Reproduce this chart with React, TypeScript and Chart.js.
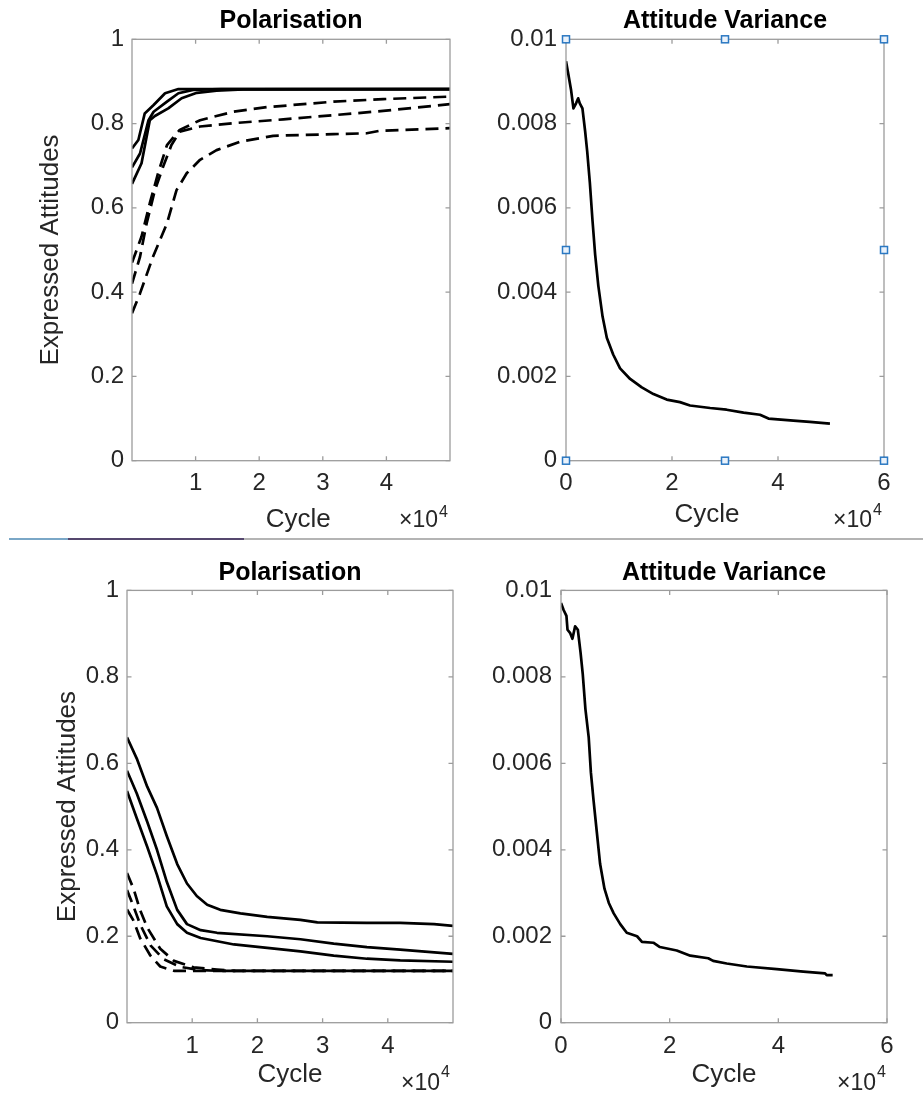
import React, { useEffect, useRef } from "react";
import { Chart, registerables } from "chart.js";

Chart.register(...registerables);

type Pt = [number, number];

const FONT = '"Liberation Sans", Arial, Helvetica, sans-serif';
const TICK_COLOR = "#262626";
const BOX_COLOR = "#9c9c9c";

// ---------- tick values ----------
const polYTicks = [0, 0.2, 0.4, 0.6, 0.8, 1];
const varYTicks = [0, 0.002, 0.004, 0.006, 0.008, 0.01];
const polXTicks = [10000, 20000, 30000, 40000];
const varXTicks = [0, 20000, 40000, 60000];
const X_EXPONENT = "4";

// ---------- top-left: Polarisation ----------
const tlSolidA: Pt[] = [[0, 0.741], [1000, 0.761], [2000, 0.824], [3400, 0.844], [5200, 0.872], [7300, 0.882], [50000, 0.882]];
const tlSolidB: Pt[] = [[0, 0.696], [1260, 0.729], [2600, 0.808], [3400, 0.828], [5500, 0.852], [7300, 0.872], [9600, 0.88], [14000, 0.882], [50000, 0.882]];
const tlSolidC: Pt[] = [[0, 0.657], [1500, 0.706], [2800, 0.808], [3600, 0.818], [5700, 0.836], [7800, 0.86], [10200, 0.873], [13300, 0.878], [17500, 0.881], [50000, 0.882]];
const tlDashA: Pt[] = [[0, 0.47], [1500, 0.532], [2800, 0.611], [4100, 0.682], [5500, 0.749], [7500, 0.785], [10700, 0.808], [15900, 0.828], [21200, 0.839], [31700, 0.852], [39500, 0.858], [50000, 0.864]];
const tlDashB: Pt[] = [[0, 0.42], [1260, 0.484], [2300, 0.563], [3600, 0.642], [4900, 0.698], [6200, 0.749], [7500, 0.781], [10700, 0.793], [15900, 0.801], [23800, 0.81], [31700, 0.82], [39500, 0.83], [50000, 0.846]];
const tlDashC: Pt[] = [[0, 0.35], [1260, 0.397], [3300, 0.484], [5500, 0.563], [7000, 0.642], [8600, 0.682], [10700, 0.714], [13300, 0.737], [17000, 0.757], [22200, 0.771], [31700, 0.775], [36900, 0.777], [39000, 0.783], [50000, 0.789]];

// ---------- top-right: Attitude Variance ----------
const trVariance: Pt[] = [[0, 0.00948], [440, 0.00917], [940, 0.00881], [1400, 0.00836], [1900, 0.00848], [2300, 0.0086], [2600, 0.00848], [3100, 0.00836], [3600, 0.00783], [4000, 0.00734], [4500, 0.0066], [5000, 0.0057], [5500, 0.00489], [6100, 0.00415], [6900, 0.00342], [7700, 0.00292], [8900, 0.00252], [10200, 0.00219], [12100, 0.00194], [14300, 0.00174], [16500, 0.00158], [19000, 0.00145], [21500, 0.00139], [23400, 0.00131], [27200, 0.00125], [30300, 0.00121], [33500, 0.00114], [36600, 0.00109], [38200, 0.001], [42900, 0.00095], [46000, 0.00092], [49800, 0.00088]];

// ---------- bottom-left: Polarisation ----------
const blSolidA: Pt[] = [[0, 0.66], [1500, 0.611], [3100, 0.546], [4600, 0.497], [6100, 0.432], [7700, 0.367], [9200, 0.322], [10700, 0.293], [12300, 0.273], [14300, 0.261], [17400, 0.253], [21500, 0.245], [26600, 0.238], [29200, 0.232], [36800, 0.231], [41900, 0.231], [47100, 0.228], [50000, 0.224]];
const blSolidB: Pt[] = [[0, 0.583], [1500, 0.53], [3100, 0.465], [4600, 0.4], [6100, 0.326], [7700, 0.261], [9200, 0.228], [11300, 0.214], [13800, 0.208], [21500, 0.2], [26600, 0.193], [31700, 0.183], [36800, 0.175], [41900, 0.169], [50000, 0.159]];
const blSolidC: Pt[] = [[0, 0.536], [1500, 0.473], [3100, 0.407], [4600, 0.342], [6100, 0.269], [7700, 0.228], [9200, 0.208], [11300, 0.196], [16400, 0.181], [21500, 0.173], [26600, 0.165], [31700, 0.155], [36800, 0.148], [41900, 0.144], [50000, 0.141]];
const blDashA: Pt[] = [[0, 0.346], [1000, 0.31], [2000, 0.261], [3100, 0.22], [5100, 0.171], [7200, 0.143], [10200, 0.128], [13800, 0.123], [16400, 0.12], [50000, 0.12]];
const blDashB: Pt[] = [[0, 0.307], [1000, 0.269], [2000, 0.228], [3600, 0.179], [5600, 0.147], [8200, 0.129], [11000, 0.122], [13800, 0.12], [50000, 0.12]];
const blDashC: Pt[] = [[0, 0.262], [1000, 0.236], [2000, 0.196], [3600, 0.155], [5100, 0.13], [7200, 0.12], [50000, 0.12]];

// ---------- bottom-right: Attitude Variance ----------
const brVariance: Pt[] = [[0, 0.00971], [500, 0.00954], [1000, 0.00941], [1200, 0.00909], [1700, 0.00901], [2100, 0.00888], [2600, 0.00917], [3100, 0.00909], [3600, 0.00856], [4000, 0.00807], [4500, 0.00725], [5100, 0.0066], [5500, 0.00579], [6000, 0.00513], [6600, 0.0044], [7200, 0.00367], [8000, 0.0031], [8800, 0.00277], [9700, 0.00253], [10900, 0.00228], [12100, 0.00208], [14000, 0.002], [14900, 0.00187], [17000, 0.00185], [18200, 0.00175], [21300, 0.00167], [23800, 0.00155], [27100, 0.00149], [28000, 0.00143], [30500, 0.00137], [34200, 0.0013], [39700, 0.00124], [44600, 0.00118], [48600, 0.00114], [48900, 0.0011], [50000, 0.0011]];

interface Series { data: Pt[]; dashed: boolean; }
interface Spec {
  left: number; top: number; width: number; height: number;
  area: { left: number; top: number; right: number; bottom: number };
  title: string; titleY: number;
  xMax: number; xTicks: number[];
  yMax: number; yTicks: number[];
  yTitle?: string; yTitleX?: number;
  xTitle: string; xTitleY: number;
  xTickPad: number; yTickPad: number;
  expBaseline: number; supBaseline: number; expInset: number;
  handles?: boolean;
  series: Series[];
}

const fmt = (v: number) => String(Number(v.toFixed(4)));

function buildConfig(spec: Spec): any {
  const a = spec.area;
  const titleLH = 30;
  const labelLH = 26 * 1.2;
  const framePlugin = {
    id: "frame",
    afterDraw(chart: any) {
      const { ctx, chartArea: c, scales } = chart;
      ctx.save();
      ctx.strokeStyle = BOX_COLOR;
      ctx.lineWidth = 1.3;
      ctx.strokeRect(c.left, c.top, c.right - c.left, c.bottom - c.top);
      const tl = 4.5;
      ctx.beginPath();
      for (const v of spec.xTicks) {
        const px = scales.x.getPixelForValue(v);
        ctx.moveTo(px, c.bottom); ctx.lineTo(px, c.bottom - tl);
        ctx.moveTo(px, c.top); ctx.lineTo(px, c.top + tl);
      }
      for (const v of spec.yTicks) {
        const py = scales.y.getPixelForValue(v);
        ctx.moveTo(c.left, py); ctx.lineTo(c.left + tl, py);
        ctx.moveTo(c.right, py); ctx.lineTo(c.right - tl, py);
      }
      ctx.stroke();
      // exponent label
      ctx.fillStyle = TICK_COLOR;
      ctx.textBaseline = "alphabetic";
      ctx.textAlign = "right";
      ctx.font = `16px ${FONT}`;
      const supRight = c.right - spec.expInset;
      ctx.fillText(X_EXPONENT, supRight, spec.supBaseline);
      const supW = ctx.measureText(X_EXPONENT).width;
      ctx.font = `23px ${FONT}`;
      ctx.fillText("\u00d710", supRight - supW - 1, spec.expBaseline);
      if (spec.handles) {
        const cx = (c.left + c.right) / 2;
        const cy = (c.top + c.bottom) / 2;
        const pts = [[c.left, c.top], [cx, c.top], [c.right, c.top], [c.left, cy], [c.right, cy], [c.left, c.bottom], [cx, c.bottom], [c.right, c.bottom]];
        ctx.lineWidth = 1.5;
        ctx.strokeStyle = "#2b78c2";
        ctx.fillStyle = "#eaf2fb";
        for (const [px, py] of pts) {
          ctx.fillRect(px - 3.5, py - 3.5, 7, 7);
          ctx.strokeRect(px - 3.5, py - 3.5, 7, 7);
        }
      }
      ctx.restore();
    },
  };

  return {
    type: "line",
    data: {
      datasets: spec.series.map((s) => ({
        data: s.data.map(([x, y]) => ({ x, y })),
        borderColor: "#000",
        borderWidth: 2.7,
        borderDash: s.dashed ? [13, 7] : [],
        borderJoinStyle: "round",
        pointRadius: 0,
        tension: 0,
        fill: false,
      })),
    },
    options: {
      responsive: false,
      animation: false,
      devicePixelRatio: 1,
      events: [],
      layout: { padding: { left: 0, top: 0, right: spec.width - a.right, bottom: 0 } },
      plugins: {
        legend: { display: false },
        tooltip: { enabled: false },
        title: {
          display: true,
          text: spec.title,
          fullSize: false,
          color: "#000",
          font: { family: FONT, size: 25, weight: "bold", lineHeight: 1.2 },
          padding: { top: spec.titleY - titleLH / 2, bottom: a.top - (spec.titleY - titleLH / 2) - titleLH },
        },
      },
      scales: {
        x: {
          type: "linear",
          min: 0,
          max: spec.xMax,
          afterBuildTicks: (s: any) => { s.ticks = spec.xTicks.map((v) => ({ value: v })); },
          afterFit: (s: any) => { s.height = spec.height - a.bottom; },
          grid: { display: false, drawTicks: false },
          border: { display: false },
          ticks: {
            font: { family: FONT, size: 24, lineHeight: 1.2 },
            color: TICK_COLOR,
            padding: spec.xTickPad,
            maxRotation: 0,
            autoSkip: false,
            callback: (v: number) => fmt(v / 10000),
          },
          title: {
            display: true,
            text: spec.xTitle,
            color: TICK_COLOR,
            font: { family: FONT, size: 26, lineHeight: 1.2 },
            padding: { top: 0, bottom: spec.height - labelLH / 2 - spec.xTitleY },
          },
        },
        y: {
          type: "linear",
          min: 0,
          max: spec.yMax,
          afterBuildTicks: (s: any) => { s.ticks = spec.yTicks.map((v) => ({ value: v })); },
          afterFit: (s: any) => { s.width = a.left; },
          grid: { display: false, drawTicks: false },
          border: { display: false },
          ticks: {
            font: { family: FONT, size: 24, lineHeight: 1.2 },
            color: TICK_COLOR,
            padding: spec.yTickPad,
            autoSkip: false,
            callback: (v: number) => fmt(v),
          },
          title: spec.yTitle
            ? {
                display: true,
                text: spec.yTitle,
                color: TICK_COLOR,
                font: { family: FONT, size: 26, lineHeight: 1.2 },
                padding: { top: (spec.yTitleX || 0) - labelLH / 2, bottom: 0 },
              }
            : { display: false },
        },
      },
    },
    plugins: [framePlugin],
  };
}

const specs: Spec[] = [
  {
    left: 0, top: 0, width: 460, height: 538,
    area: { left: 132, top: 39.3, right: 450, bottom: 460.7 },
    title: "Polarisation", titleY: 21,
    xMax: 50000, xTicks: polXTicks, yMax: 1, yTicks: polYTicks,
    yTitle: "Expressed Attitudes", yTitleX: 51,
    xTitle: "  Cycle", xTitleY: 520,
    xTickPad: 8, yTickPad: 8,
    expBaseline: 527, supBaseline: 517, expInset: 2,
    series: [
      { data: tlSolidA, dashed: false }, { data: tlSolidB, dashed: false }, { data: tlSolidC, dashed: false },
      { data: tlDashA, dashed: true }, { data: tlDashB, dashed: true }, { data: tlDashC, dashed: true },
    ],
  },
  {
    left: 460, top: 0, width: 463, height: 538,
    area: { left: 106, top: 39.3, right: 424, bottom: 460.7 },
    title: "Attitude Variance", titleY: 21,
    xMax: 60000, xTicks: varXTicks, yMax: 0.01, yTicks: varYTicks,
    xTitle: "Cycle     ", xTitleY: 515,
    xTickPad: 8, yTickPad: 9,
    expBaseline: 527, supBaseline: 515, expInset: 2,
    handles: true,
    series: [{ data: trVariance, dashed: false }],
  },
  {
    left: 0, top: 540, width: 460, height: 553,
    area: { left: 127, top: 50.4, right: 453, bottom: 482.7 },
    title: "Polarisation", titleY: 33,
    xMax: 50000, xTicks: polXTicks, yMax: 1, yTicks: polYTicks,
    yTitle: "Expressed Attitudes", yTitleX: 68,
    xTitle: "Cycle", xTitleY: 535,
    xTickPad: 9, yTickPad: 8,
    expBaseline: 550, supBaseline: 537, expInset: 3,
    series: [
      { data: blSolidA, dashed: false }, { data: blSolidB, dashed: false }, { data: blSolidC, dashed: false },
      { data: blDashA, dashed: true }, { data: blDashB, dashed: true }, { data: blDashC, dashed: true },
    ],
  },
  {
    left: 460, top: 540, width: 463, height: 553,
    area: { left: 101, top: 50.4, right: 427, bottom: 482.7 },
    title: "Attitude Variance", titleY: 33,
    xMax: 60000, xTicks: varXTicks, yMax: 0.01, yTicks: varYTicks,
    xTitle: "Cycle", xTitleY: 535,
    xTickPad: 9, yTickPad: 9,
    expBaseline: 550, supBaseline: 537, expInset: 1,
    series: [{ data: brVariance, dashed: false }],
  },
];

function Panel({ spec }: { spec: Spec }) {
  const ref = useRef<HTMLCanvasElement>(null);
  useEffect(() => {
    const chart = new Chart(ref.current as HTMLCanvasElement, buildConfig(spec));
    return () => chart.destroy();
  }, [spec]);
  return (
    <canvas
      ref={ref}
      width={spec.width}
      height={spec.height}
      style={{ position: "absolute", left: spec.left, top: spec.top, width: spec.width, height: spec.height }}
    />
  );
}

export default function App() {
  return (
    <div style={{ position: "absolute", left: 0, top: 0, width: 923, height: 1093, background: "#fff", overflow: "hidden" }}>
      {specs.map((s, i) => (
        <Panel key={i} spec={s} />
      ))}
      <div style={{ position: "absolute", left: 9, top: 538, width: 914, height: 2, background: "#b4b4b4" }} />
      <div style={{ position: "absolute", left: 9, top: 538, width: 59, height: 2, background: "#7aa7c7" }} />
      <div style={{ position: "absolute", left: 68, top: 538, width: 176, height: 2, background: "#55476e" }} />
    </div>
  );
}
